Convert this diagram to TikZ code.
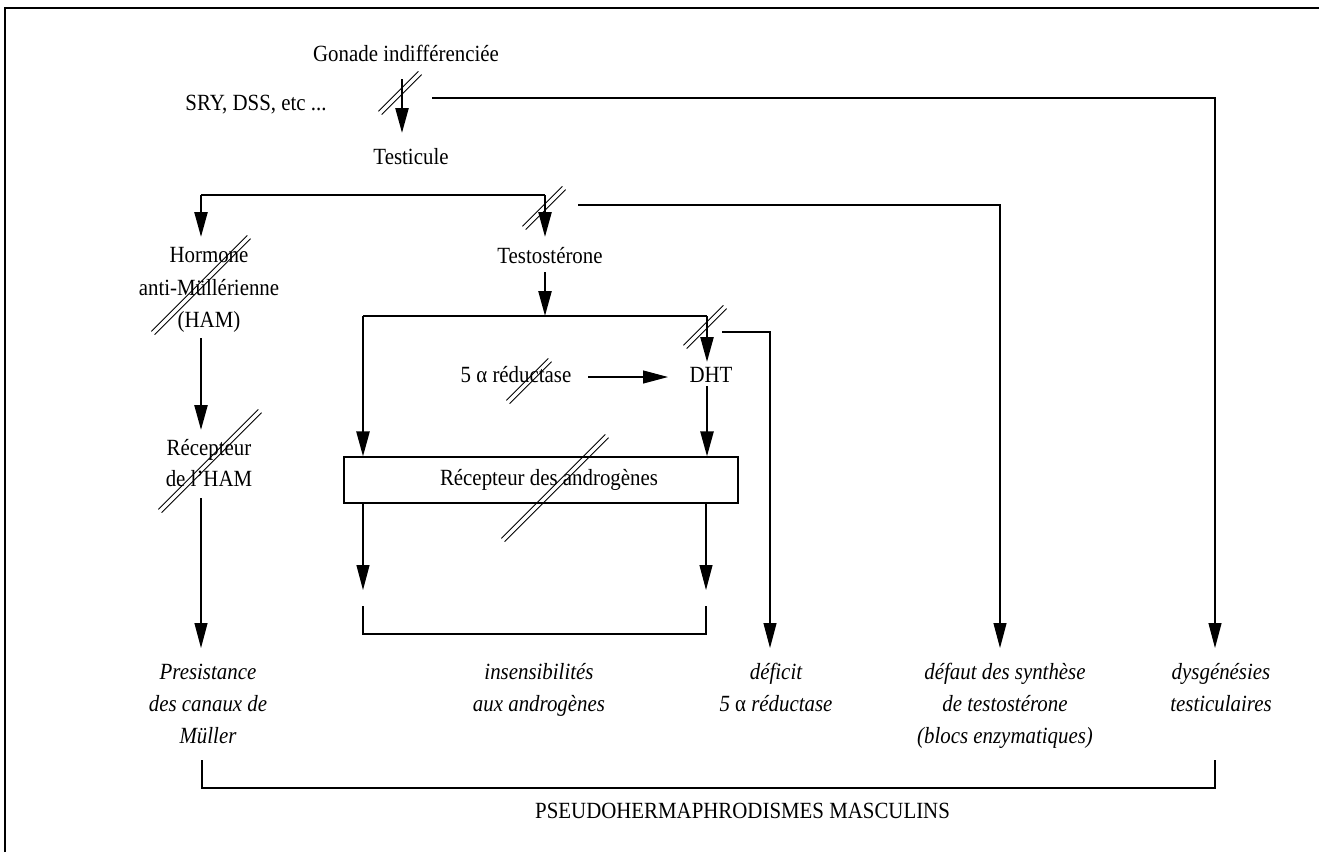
\documentclass[tikz,border=0pt]{standalone}
\usepackage{fontspec}
\setmainfont{Liberation Serif}[FakeStretch=0.9]
\usetikzlibrary{arrows.meta}

\begin{document}
\begin{tikzpicture}[x=1pt,y=-1pt,
  txt/.style={inner sep=0pt, anchor=base, font=\fontsize{23.2}{32}\selectfont},
  itxt/.style={inner sep=0pt, anchor=base, font=\fontsize{23.2}{32}\selectfont\itshape},
  thinline/.style={line width=1.1pt},
  thickline/.style={line width=2.4pt},
  frameline/.style={line width=1.6pt},
  slashline/.style={line width=0.9pt},
  tip/.style={-{Triangle[length=25pt,width=13pt]}},
  pics/dslash/.style={code={
    \draw[slashline] (-#1-1.6,#1-1.6) -- (#1-1.6,-#1-1.6);
    \draw[slashline] (-#1+1.6,#1+1.6) -- (#1+1.6,-#1+1.6);
  }}
]
\useasboundingbox (0,0) rectangle (1319,852);

% frame on the left and top edges
\coordinate (fbl) at (5,852);
\coordinate (ftl) at (5,8);
\coordinate (ftr) at (1319,8);
\draw[frameline] (fbl) -- (ftl) -- (ftr);

% ---------- texts ----------
\node[txt] (gonade) at (406,61) {Gonade indifférenciée};
\node[txt] (sry) at (256,110) {SRY, DSS, etc ...};
\node[txt] (testicule) at (411,164) {Testicule};
\node[txt] (hormA) at (209,262) {Hormone};
\node[txt] (hormB) at (209,295) {anti-Müllérienne};
\node[txt] (hormC) at (209,327) {(HAM)};
\node[txt] (testo) at (550,263) {Testostérone};
\node[txt] (reduc) at (516,382) {5 α réductase};
\node[txt] (dht) at (711,382) {DHT};
\node[txt] (rhamA) at (209,455) {Récepteur};
\node[txt] (rhamB) at (209,486) {de l’HAM};
\node[draw, thinline, minimum width=394pt, minimum height=46pt, inner sep=0pt,
      font=\fontsize{23.2}{32}\selectfont] (recbox) at (541,480)
      {\hspace*{16pt}Récepteur des androgènes};

\node[itxt] (persA) at (208,679) {Presistance};
\node[itxt] (persB) at (208,711) {des canaux de};
\node[itxt] (persC) at (208,743) {Müller};
\node[itxt] (insA) at (539,679) {insensibilités};
\node[itxt] (insB) at (539,711) {aux androgènes};
\node[itxt] (defA) at (776,679) {déficit};
\node[itxt] (defB) at (776,711) {5 \textup{α} réductase};
\node[itxt] (synA) at (1005,679) {défaut des synthèse};
\node[itxt] (synB) at (1005,711) {de testostérone};
\node[itxt] (synC) at (1005,743) {(blocs enzymatiques)};
\node[itxt] (dysA) at (1221,679) {dysgénésies};
\node[itxt] (dysB) at (1221,711) {testiculaires};
\node[txt, anchor=base west] (pseudo) at (535,818) {PSEUDOHERMAPHRODISMES MASCULINS};

% ---------- connector points ----------
\coordinate (gA) at (402,79);   \coordinate (gB) at (402,133);
\coordinate (sA) at (432,98);   \coordinate (sB) at (1215,98);  \coordinate (sC) at (1215,648);
\coordinate (tL) at (201,195);  \coordinate (tR) at (545,195);
\coordinate (tLe) at (201,237); \coordinate (tRe) at (545,237);
\coordinate (uA) at (578,205);  \coordinate (uB) at (1000,205); \coordinate (uC) at (1000,648);
\coordinate (teA) at (545,272); \coordinate (teB) at (545,316);
\coordinate (bL) at (363,316);  \coordinate (bR) at (707,316);
\coordinate (dhtIn) at (707,362);
\coordinate (dA) at (722,332);  \coordinate (dB) at (770,332);  \coordinate (dC) at (770,648);
\coordinate (rA) at (588,377);  \coordinate (rB) at (668,377);
\coordinate (dhtOut) at (707,386);
\coordinate (hA) at (201,338);  \coordinate (hB) at (201,430);
\coordinate (mA) at (201,498);  \coordinate (mB) at (201,648);
\coordinate (oL) at (363,590);  \coordinate (oR) at (706,590);
\coordinate (kL) at (363,606);  \coordinate (kLb) at (363,634);
\coordinate (kR) at (706,606);  \coordinate (kRb) at (706,634);
\coordinate (zL) at (202,760);  \coordinate (zLb) at (202,788);
\coordinate (zR) at (1215,760); \coordinate (zRb) at (1215,788);

% ---------- connectors ----------
\draw[thickline, tip] (gA) -- (gB);
\draw[thinline, tip] (sA) -- (sB) -- (sC);
\draw[thickline] (tL) -- (tR);
\draw[thickline, tip] (tL) -- (tLe);
\draw[thickline, tip] (tR) -- (tRe);
\draw[thinline, tip] (uA) -- (uB) -- (uC);
\draw[thickline, tip] (teA) -- (teB);
\draw[thinline] (bL) -- (bR);
\draw[thickline, tip] (bL) -- (bL |- recbox.north);
\draw[thickline, tip] (bR) -- (dhtIn);
\draw[thinline, tip] (dA) -- (dB) -- (dC);
\draw[thinline, tip] (rA) -- (rB);
\draw[thickline, tip] (dhtOut) -- (dhtOut |- recbox.north);
\draw[thickline, tip] (hA) -- (hB);
\draw[thinline, tip] (mA) -- (mB);
\draw[thinline, tip] (bL |- recbox.south) -- (oL);
\draw[thinline, tip] (oR |- recbox.south) -- (oR);
\draw[thinline] (kL) -- (kLb) -- (kRb) -- (kR);
\draw[thinline] (zL) -- (zLb) -- (zRb) -- (zR);

% ---------- blocks (double slashes) ----------
\pic at (400,93) {dslash=20};
\pic at (544,208) {dslash=20};
\pic at (201,285) {dslash=48};
\pic at (210,461) {dslash=50};
\pic at (705,327) {dslash=20};
\pic at (529,381) {dslash=21};
\pic at (555,488) {dslash=52};
\end{tikzpicture}
\end{document}
